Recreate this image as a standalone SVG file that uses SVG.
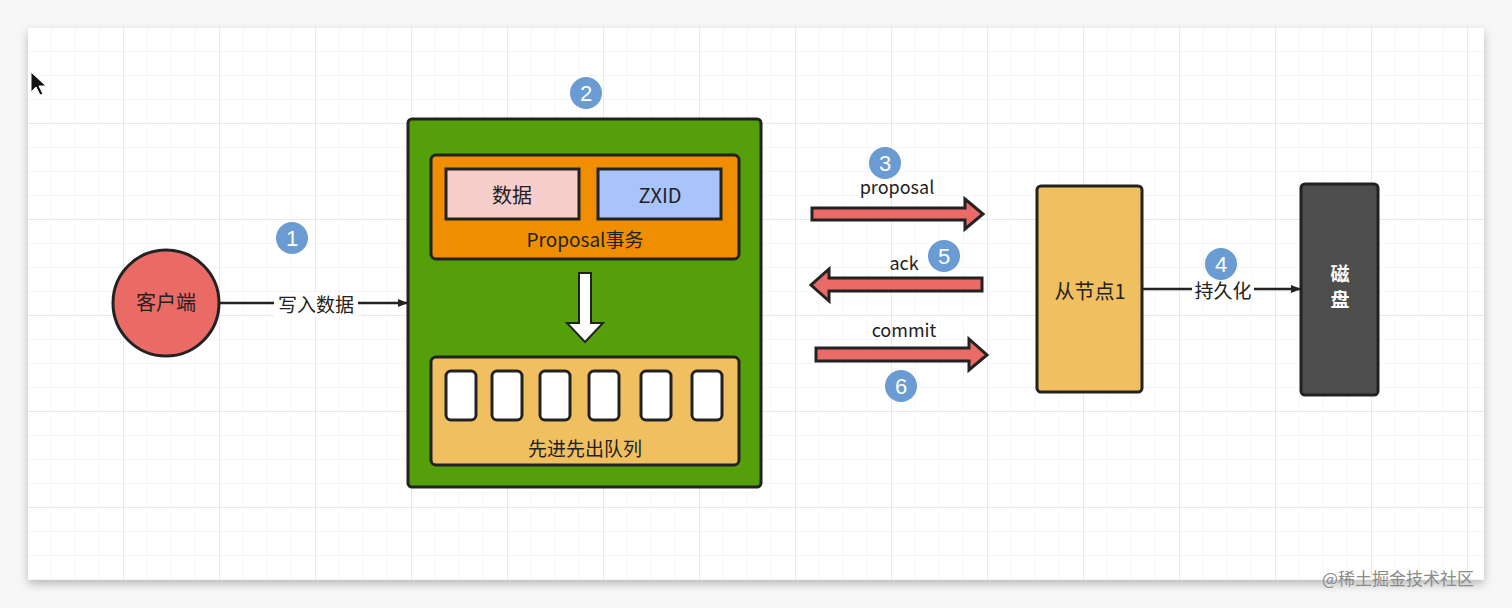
<svg xmlns="http://www.w3.org/2000/svg" width="1512" height="608" viewBox="0 0 1512 608">
<defs>
<pattern id="grid" x="28" y="28" width="24" height="24" patternUnits="userSpaceOnUse"><path d="M24 0V24H0" fill="none" stroke="#ececec" stroke-width="1"/></pattern>
<pattern id="grid2" x="28" y="28" width="96" height="96" patternUnits="userSpaceOnUse"><path d="M96 0V96H0" fill="none" stroke="#dcdcdc" stroke-width="1"/></pattern>
<filter id="sh" x="-5%" y="-5%" width="110%" height="115%"><feDropShadow dx="0" dy="4" stdDeviation="5" flood-color="#000" flood-opacity="0.25"/></filter>
<marker id="ah" markerWidth="10" markerHeight="10" refX="9" refY="5" orient="auto" markerUnits="userSpaceOnUse"><path d="M0,1 L10,5 L0,9 Z" fill="#222"/></marker>
</defs>
<style>
text{font-family:"Noto Sans CJK SC","Liberation Sans",sans-serif;fill:#222;text-anchor:middle}
.n{font-size:20px}
.b circle{fill:#6a9bd3}
.b text{fill:#fff;font-size:22px;font-family:"Liberation Sans",sans-serif}
.fat{fill:#ea6b66;stroke:#222;stroke-width:3;stroke-linejoin:miter}
</style>
<rect width="1512" height="608" fill="#f7f7f7"/>
<rect x="28" y="28" width="1456" height="552" fill="#fff" filter="url(#sh)"/>
<rect x="28" y="28" width="1456" height="552" fill="url(#grid)"/>
<rect x="28" y="28" width="1456" height="552" fill="url(#grid2)"/>
<path d="M31,72 L31,92 L36,87 L40,95 L43,94 L39,86 L46,86 Z" fill="#111" stroke="#fff" stroke-width="1"/>

<g id="client"><circle cx="166" cy="303" r="53" fill="#ea6b66" stroke="#222" stroke-width="3"/><text class="n" x="166" y="310" font-size="19">客户端</text></g>

<g id="leader">
<rect x="408" y="119" width="353" height="368" rx="4" fill="#55a00a" stroke="#222" stroke-width="3"/>
<rect x="431" y="155" width="308" height="104" rx="5" fill="#ee8e00" stroke="#222" stroke-width="3"/>
<rect x="446" y="169" width="133" height="50" fill="#f8cecc" stroke="#222" stroke-width="3"/>
<text class="n" x="512" y="203">数据</text>
<rect x="598" y="169" width="123" height="50" fill="#a9c4fb" stroke="#222" stroke-width="3"/>
<text class="n" x="660" y="203" font-family="Liberation Sans,sans-serif">ZXID</text>
<text x="585" y="247" font-size="19">Proposal事务</text>
<path d="M579,273 H591 V323 H603 L585,342 L567,323 H579 Z" fill="#fff" stroke="#222" stroke-width="2"/>
<rect x="431" y="357" width="308" height="108" rx="5" fill="#f0c060" stroke="#222" stroke-width="3"/>
<g fill="#fff" stroke="#222" stroke-width="3">
<rect x="446" y="371" width="30" height="49" rx="5"/><rect x="492" y="371" width="30" height="49" rx="5"/><rect x="540" y="371" width="30" height="49" rx="5"/><rect x="589" y="371" width="30" height="49" rx="5"/><rect x="641" y="371" width="30" height="49" rx="5"/><rect x="692" y="371" width="30" height="49" rx="5"/>
</g>
<text x="585" y="456" font-size="19">先进先出队列</text>
</g>

<g id="follower"><rect x="1037" y="186" width="105" height="206" rx="4" fill="#f0c060" stroke="#222" stroke-width="3"/><text class="n" x="1090" y="299" font-size="19">从节点1</text></g>
<g id="disk"><rect x="1301" y="184" width="77" height="211" rx="4" fill="#4d4d4d" stroke="#222" stroke-width="3"/><text x="1340" y="281" font-size="19" fill="#fff" style="fill:#fff;font-weight:bold">磁</text><text x="1340" y="307" font-size="19" style="fill:#fff;font-weight:bold">盘</text></g>

<g id="connectors">
<line x1="219" y1="303" x2="407" y2="303" stroke="#222" stroke-width="2.5" marker-end="url(#ah)"/>
<rect x="274" y="292" width="84" height="24" fill="#fff"/>
<text x="316" y="312" font-size="19">写入数据</text>
<line x1="1143" y1="289" x2="1300" y2="289" stroke="#222" stroke-width="2.5" marker-end="url(#ah)"/>
<rect x="1192" y="278" width="62" height="24" fill="#fff"/>
<text x="1223" y="298" font-size="19">持久化</text>
<path class="fat" d="M812,208 H965 V199 L983,214 L965,229 V220 H812 Z"/>
<path class="fat" d="M982,278 H829 V269 L811,285 L829,301 V291 H982 Z"/>
<path class="fat" d="M816,348 H969 V339 L987,355 L969,370 V361 H816 Z"/>
<text x="897" y="194" font-size="18" font-family="Liberation Sans,sans-serif">proposal</text>
<text x="904" y="270" font-size="18" font-family="Liberation Sans,sans-serif">ack</text>
<text x="904" y="337" font-size="18" font-family="Liberation Sans,sans-serif">commit</text>
</g>

<g class="b" id="badges">
<g><circle cx="292" cy="238" r="16"/><text x="292" y="246">1</text></g>
<g><circle cx="586" cy="93" r="16"/><text x="586" y="101">2</text></g>
<g><circle cx="885" cy="163" r="16"/><text x="885" y="171">3</text></g>
<g><circle cx="1221" cy="264" r="16"/><text x="1221" y="272">4</text></g>
<g><circle cx="944" cy="256" r="16"/><text x="944" y="264">5</text></g>
<g><circle cx="901" cy="386" r="16"/><text x="901" y="394">6</text></g>
</g>
<text x="1398" y="585" font-size="17" style="fill:#8a8a8a">@稀土掘金技术社区</text>
</svg>
